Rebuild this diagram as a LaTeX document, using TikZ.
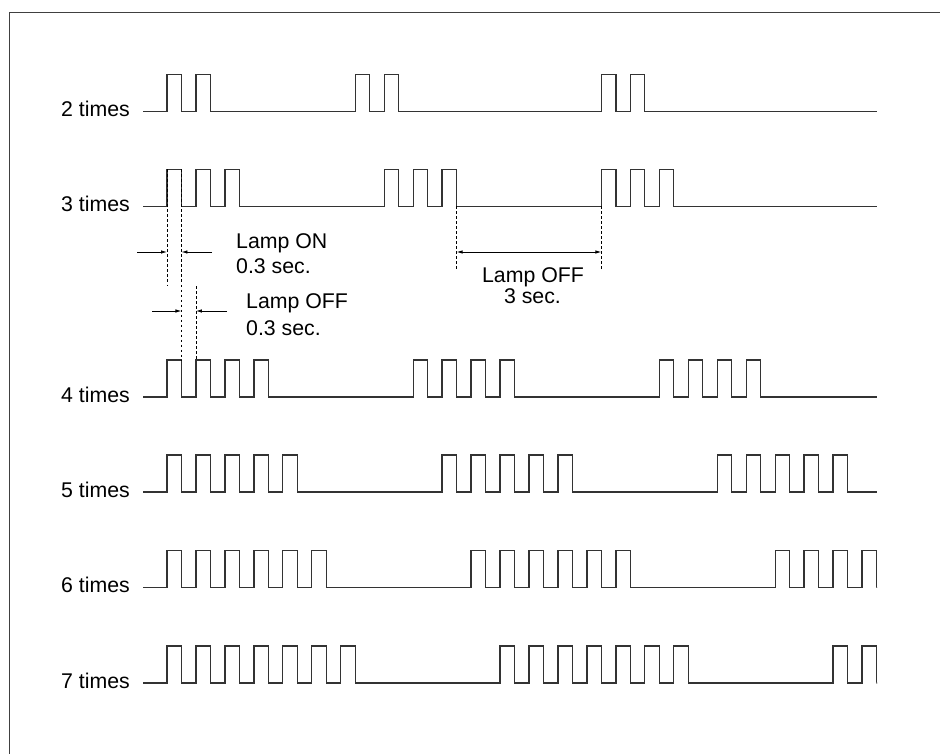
\documentclass[tikz,border=0pt]{standalone}
\usepackage{fontspec}
\setmainfont{Liberation Sans}
\usetikzlibrary{arrows.meta}
\def\pw{14.48}
\newcommand\signal[2]{%
  \draw[wave] (143,#1)
    \foreach \g/\n in {#2}{
      \foreach \k in {1,...,\n}{
        -- ({167+(\g+2*(\k-1))*\pw},#1) -- ++(0,-37) -- ++(\pw,0) -- ++(0,37)
      }
    } -- (876.5,#1);
}
\begin{document}
\begin{tikzpicture}[x=1pt,y=-1pt,
  wave/.style={line width=1.3pt, draw=black!80, line join=miter},
  dim/.style={line width=0.8pt, draw=black},
  tip/.style={-{Latex[length=6pt,width=3.5pt]}},
  guide/.style={line width=0.8pt, draw=black, dash pattern=on 2.5pt off 2.5pt},
  lbl/.style={font=\fontsize{21.3}{25}\selectfont, inner sep=0pt},
  frame/.style={line width=0.9pt, draw=black!75}]
\useasboundingbox (0,0) rectangle (940,754);
\draw[frame] (9,754) -- (9,12) -- (940,12);

% row labels
\node[lbl, anchor=base east] (r2) at (130,116.5) {2 times};
\node[lbl, anchor=base east] (r3) at (130,211.5) {3 times};
\node[lbl, anchor=base east] (r4) at (130,402) {4 times};
\node[lbl, anchor=base east] (r5) at (130,497) {5 times};
\node[lbl, anchor=base east] (r6) at (130,592.5) {6 times};
\node[lbl, anchor=base east] (r7) at (130,688) {7 times};

% signals
\signal{111.5}{0/2,13/2,30/2}
\signal{206.5}{0/3,15/3,30/3}
\signal{397}{0/4,17/4,34/4}
\signal{492}{0/5,19/5,38/5}
\signal{587.5}{0/6,21/6,42/4}
\signal{683}{0/7,23/7,46/2}

% guide coordinates
\coordinate (g1t) at (167,169.5);
\coordinate (g1b) at (167,286);
\coordinate (g2t) at (181.48,169.5);
\coordinate (g2b) at (181.48,360);
\coordinate (g3t) at (195.96,286);
\coordinate (g3b) at (195.96,360);
\coordinate (g4t) at (456.6,206.5);
\coordinate (g4b) at (456.6,270);
\coordinate (g5t) at (601.4,206.5);
\coordinate (g5b) at (601.4,270);
\draw[guide] (g1t) -- (g1b);
\draw[guide] (g2t) -- (g2b);
\draw[guide] (g3t) -- (g3b);
\draw[guide] (g4t) -- (g4b);
\draw[guide] (g5t) -- (g5b);

% Lamp ON dimension
\coordinate (on1) at (137,252);
\coordinate (on1e) at (167,252);
\coordinate (on2) at (212,252);
\coordinate (on2e) at (181.48,252);
\draw[dim,tip] (on1) -- (on1e);
\draw[dim,tip] (on2) -- (on2e);
% Lamp OFF 0.3 dimension
\coordinate (of1) at (152,311);
\coordinate (of1e) at (181.48,311);
\coordinate (of2) at (227,311);
\coordinate (of2e) at (195.96,311);
\draw[dim,tip] (of1) -- (of1e);
\draw[dim,tip] (of2) -- (of2e);
% Lamp OFF 3 sec dimension
\coordinate (l3a) at (456.6,252);
\coordinate (l3b) at (601.4,252);
\draw[dim,{Latex[length=6pt,width=3.5pt]}-{Latex[length=6pt,width=3.5pt]}] (l3a) -- (l3b);

% texts
\node[lbl, anchor=base west] (ton1) at (236,248.3) {Lamp ON};
\node[lbl, anchor=base west] (ton2) at (236,273.3) {0.3 sec.};
\node[lbl, anchor=base west] (toff1) at (246,308.3) {Lamp OFF};
\node[lbl, anchor=base west] (toff2) at (246,335) {0.3 sec.};
\node[lbl, anchor=base] (tl1) at (533,282.3) {Lamp OFF};
\node[lbl, anchor=base] (tl2) at (532.5,303.3) {3 sec.};
\end{tikzpicture}
\end{document}
